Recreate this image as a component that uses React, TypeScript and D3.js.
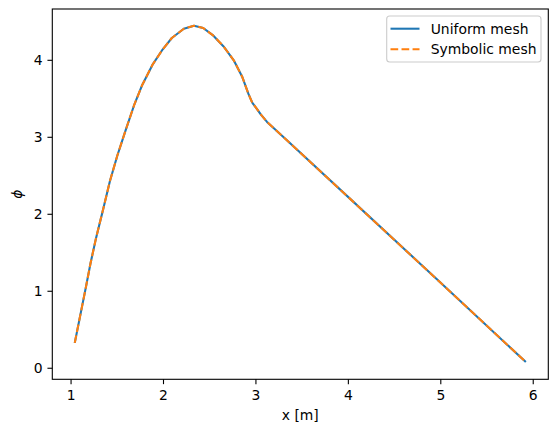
import React from "react";
import * as d3 from "d3";

const xValues = [1.04, 1.10, 1.16, 1.21, 1.27, 1.34, 1.42, 1.50, 1.59, 1.68, 1.77, 1.88, 1.99, 2.09, 2.22, 2.33, 2.43, 2.54, 2.65, 2.76, 2.85, 2.92, 2.96, 3.01, 3.05, 3.12, 3.30, 4.02, 4.99, 5.92];
const phiUniform = [0.33, 0.69, 1.05, 1.36, 1.69, 2.03, 2.43, 2.76, 3.09, 3.41, 3.68, 3.94, 4.14, 4.29, 4.41, 4.45, 4.42, 4.32, 4.18, 4.00, 3.79, 3.56, 3.45, 3.37, 3.30, 3.20, 3.00, 2.20, 1.12, 0.08];
const phiSymbolic = [0.33, 0.69, 1.05, 1.36, 1.69, 2.03, 2.43, 2.76, 3.09, 3.41, 3.68, 3.94, 4.14, 4.29, 4.41, 4.45, 4.42, 4.32, 4.18, 4.00, 3.79, 3.56, 3.45, 3.37, 3.30, 3.20, 3.00, 2.20, 1.12, 0.08];
const xTicks = [1, 2, 3, 4, 5, 6];
const yTicks = [0, 1, 2, 3, 4];
const seriesNames = ["Uniform mesh", "Symbolic mesh"];

const W = 558, H = 432;
const left = 52.3, right = 548.3, top = 9, bottom = 379.3;
const FONT = "DejaVu Sans, sans-serif";
const FS = 13.9;
const TICK = 4.86;
const LW = 2.08;
const DASH = "7.7,3.33";

export default function App() {
  const x = d3.scaleLinear().domain([0.797, 6.163]).range([left, right]);
  const y = d3.scaleLinear().domain([-0.1435, 4.6665]).range([bottom, top]);
  const line = d3.line<number>().x((_, i) => x(xValues[i])).y((d) => y(d));
  return (
    <svg width={W} height={H} style={{ position: "absolute", left: 0, top: 0, background: "#fff" }}>
      <rect x={0} y={0} width={W} height={H} fill="#fff" />
      <path d={line(phiUniform) || ""} fill="none" stroke="#1f77b4" strokeWidth={LW} strokeLinejoin="round" />
      <path d={line(phiSymbolic) || ""} fill="none" stroke="#ff7f0e" strokeWidth={LW} strokeDasharray={DASH} strokeLinejoin="round" />
      <rect x={left} y={top} width={right - left} height={bottom - top} fill="none" stroke="#000" strokeWidth={1.1} />
      {xTicks.map((t) => (
        <g key={"x" + t}>
          <line x1={x(t)} x2={x(t)} y1={bottom} y2={bottom + TICK} stroke="#000" strokeWidth={1.1} />
          <text x={x(t)} y={400} textAnchor="middle" fontFamily={FONT} fontSize={FS} fill="#000">{t}</text>
        </g>
      ))}
      {yTicks.map((t) => (
        <g key={"y" + t}>
          <line x1={left - TICK} x2={left} y1={y(t)} y2={y(t)} stroke="#000" strokeWidth={1.1} />
          <text x={left - TICK - 4.86} y={y(t)} dy="0.36em" textAnchor="end" fontFamily={FONT} fontSize={FS} fill="#000">{t}</text>
        </g>
      ))}
      <text x={(left + right) / 2} y={419.5} textAnchor="middle" fontFamily={FONT} fontSize={FS} fill="#000">x [m]</text>
      <text transform={`translate(22, ${(top + bottom) / 2}) rotate(-90)`} textAnchor="middle" fontFamily={FONT} fontSize={FS} fontStyle="italic" fill="#000">ϕ</text>
      <g>
        <rect x={386.7} y={16} width={154.3} height={46} rx={3} ry={3} fill="#fff" fillOpacity={0.8} stroke="#cccccc" strokeWidth={1.1} />
        <line x1={390.5} x2={419.5} y1={28.7} y2={28.7} stroke="#1f77b4" strokeWidth={LW} />
        <line x1={390.5} x2={419.5} y1={49.3} y2={49.3} stroke="#ff7f0e" strokeWidth={LW} strokeDasharray={DASH} />
        <text x={430.7} y={28.7} dy="0.36em" fontFamily={FONT} fontSize={FS} fill="#000">{seriesNames[0]}</text>
        <text x={430.7} y={49.3} dy="0.36em" fontFamily={FONT} fontSize={FS} fill="#000">{seriesNames[1]}</text>
      </g>
    </svg>
  );
}
